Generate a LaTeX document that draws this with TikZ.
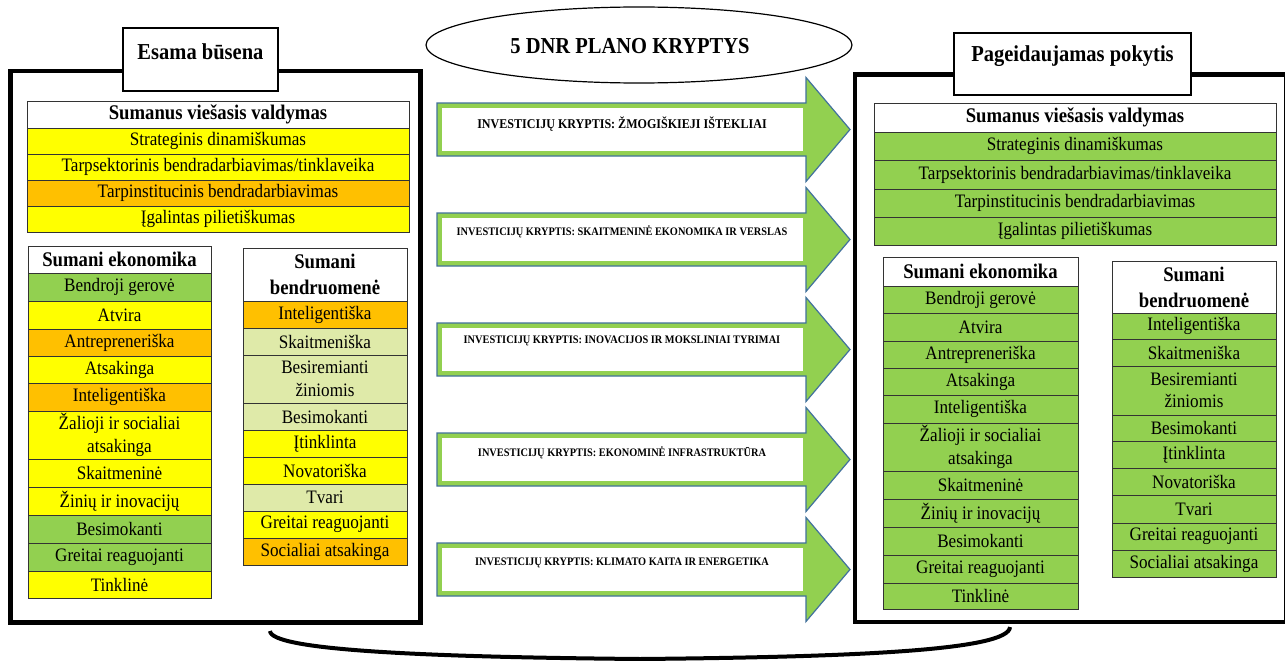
\documentclass[tikz,border=0pt]{standalone}
\usepackage{fontspec}
\setmainfont{Liberation Serif}[FakeStretch=0.9]
\usetikzlibrary{shapes.geometric}
\definecolor{cy}{HTML}{FFFF00}
\definecolor{co}{HTML}{FFC000}
\definecolor{cg}{HTML}{92D050}
\definecolor{cl}{HTML}{DFEAA9}
\definecolor{aline}{HTML}{41719C}
\newcommand\mycell[8]{\node[#1, fill=#7, minimum width={(#5-#3)*1pt}, minimum height={(#6-#4)*1pt}] (#2) at ({(#3+#5)/2},{(#4+#6)/2}) {#8};}
\tikzset{
  cellbox/.style={draw=black!80, line width=0.8pt, inner sep=0pt, align=center, font=\fontsize{19}{22.5}\selectfont},
  headbox/.style={cellbox, font=\bfseries\fontsize{20.8}{26}\selectfont},
  frame/.style={draw=black, line width=4.5pt},
  titlebox/.style={draw=black, line width=1.2pt, fill=white, inner sep=0pt},
  titletext/.style={font=\bfseries\fontsize{22.8}{26}\selectfont, inner sep=0pt},
  arrowbody/.style={draw=aline, line width=1.2pt, fill=cg},
  arrowwhite/.style={fill=white, draw=none, inner sep=0pt, minimum width=361pt, minimum height=43pt},
  arrowtext/.style={font=\bfseries\fontsize{11.5}{13}\selectfont, inner sep=0pt},
  arcline/.style={draw=black, line width=4pt},
}
\begin{document}
\begin{tikzpicture}[x=1pt,y=-1pt]
\useasboundingbox (0,0) rectangle (1285,661);
\clip (0,0) rectangle (1285,661);
\fill[white] (0,0) rectangle (1285,661);

% frames
\node[frame, minimum width=410pt, minimum height=551.5pt, inner sep=0pt] (leftframe) at (215.5,346.75) {};
\node[frame, minimum width=431pt, minimum height=547.5pt, inner sep=0pt] (rightframe) at (1070.5,348.25) {};

% title boxes
\node[titlebox, minimum width=155pt, minimum height=63pt] (esamabox) at (200.5,59.5) {};
\node[titletext] (esama) at (200.5,52) {Esama būsena};
\node[titlebox, minimum width=237pt, minimum height=62pt] (pagbox) at (1072.5,64) {};
\node[titletext] (pag) at (1072.5,56) {Pageidaujamas pokytis};

% ellipse
\node[draw=black, line width=1.2pt, fill=white, ellipse, minimum width=426pt, minimum height=76pt, inner sep=0pt] (dnr) at (639,45) {};
\node[titletext] (dnrtext) at (630,46) {5 DNR PLANO KRYPTYS};

% arrows
\foreach \c/\n in {129.5/a1,239.5/a2,349.5/a3,459.5/a4,569.5/a5}{
  \draw[arrowbody] (437,\c-26.5) -- (806,\c-26.5) -- (806,\c-52) -- (850,\c) -- (806,\c+52) -- (806,\c+26.5) -- (437,\c+26.5) -- cycle;
  \node[arrowwhite] (\n w) at (622.5,\c) {};
}
\node[arrowtext, font=\bfseries\fontsize{13.4}{15}\selectfont] (a1t) at (622,124) {INVESTICIJŲ KRYPTIS: ŽMOGIŠKIEJI IŠTEKLIAI};
\node[arrowtext] (a2t) at (622,232) {INVESTICIJŲ KRYPTIS: SKAITMENINĖ EKONOMIKA IR VERSLAS};
\node[arrowtext] (a3t) at (622,341) {INVESTICIJŲ KRYPTIS: INOVACIJOS IR MOKSLINIAI TYRIMAI};
\node[arrowtext] (a4t) at (622,453) {INVESTICIJŲ KRYPTIS: EKONOMINĖ INFRASTRUKTŪRA};
\node[arrowtext] (a5t) at (622,563) {INVESTICIJŲ KRYPTIS: KLIMATO KAITA IR ENERGETIKA};

% left: Sumanus viesasis valdymas
\mycell{headbox}{LS0}{27}{101}{409}{128}{white}{Sumanus viešasis valdymas}
\mycell{cellbox}{LS1}{27}{128}{409}{154}{cy}{Strateginis dinamiškumas}
\mycell{cellbox}{LS2}{27}{154}{409}{180}{cy}{Tarpsektorinis bendradarbiavimas/tinklaveika}
\mycell{cellbox}{LS3}{27}{180}{409}{206}{co}{Tarpinstitucinis bendradarbiavimas}
\mycell{cellbox}{LS4}{27}{206}{409}{232}{cy}{Įgalintas pilietiškumas}

% left: Sumani ekonomika
\mycell{headbox}{LE0}{28}{246}{211}{273}{white}{Sumani ekonomika}
\mycell{cellbox}{LE1}{28}{273}{211}{301}{cg}{Bendroji gerovė}
\mycell{cellbox}{LE2}{28}{301}{211}{329}{cy}{Atvira}
\mycell{cellbox}{LE3}{28}{329}{211}{356}{co}{Antrepreneriška}
\mycell{cellbox}{LE4}{28}{356}{211}{383}{cy}{Atsakinga}
\mycell{cellbox}{LE5}{28}{383}{211}{411}{co}{Inteligentiška}
\mycell{cellbox}{LE6}{28}{411}{211}{459}{cy}{Žalioji ir socialiai\\atsakinga}
\mycell{cellbox}{LE7}{28}{459}{211}{487}{cy}{Skaitmeninė}
\mycell{cellbox}{LE8}{28}{487}{211}{515}{cy}{Žinių ir inovacijų}
\mycell{cellbox}{LE9}{28}{515}{211}{543}{cg}{Besimokanti}
\mycell{cellbox}{LE10}{28}{543}{211}{571}{cg}{Greitai reaguojanti}
\mycell{cellbox}{LE11}{28}{571}{211}{598}{cy}{Tinklinė}

% left: Sumani bendruomene
\mycell{headbox}{LB0}{243}{248}{407}{301}{white}{Sumani\\bendruomenė}
\mycell{cellbox}{LB1}{243}{301}{407}{328}{co}{Inteligentiška}
\mycell{cellbox}{LB2}{243}{328}{407}{355}{cl}{Skaitmeniška}
\mycell{cellbox}{LB3}{243}{355}{407}{403}{cl}{Besiremianti\\žiniomis}
\mycell{cellbox}{LB4}{243}{403}{407}{430}{cl}{Besimokanti}
\mycell{cellbox}{LB5}{243}{430}{407}{457}{cy}{Įtinklinta}
\mycell{cellbox}{LB6}{243}{457}{407}{484}{cy}{Novatoriška}
\mycell{cellbox}{LB7}{243}{484}{407}{511}{cl}{Tvari}
\mycell{cellbox}{LB8}{243}{511}{407}{538}{cy}{Greitai reaguojanti}
\mycell{cellbox}{LB9}{243}{538}{407}{565}{co}{Socialiai atsakinga}

% right: Sumanus viesasis valdymas
\mycell{headbox}{RS0}{874}{103}{1276}{132}{white}{Sumanus viešasis valdymas}
\mycell{cellbox}{RS1}{874}{132}{1276}{160}{cg}{Strateginis dinamiškumas}
\mycell{cellbox}{RS2}{874}{160}{1276}{189}{cg}{Tarpsektorinis bendradarbiavimas/tinklaveika}
\mycell{cellbox}{RS3}{874}{189}{1276}{217}{cg}{Tarpinstitucinis bendradarbiavimas}
\mycell{cellbox}{RS4}{874}{217}{1276}{245}{cg}{Įgalintas pilietiškumas}

% right: Sumani ekonomika
\mycell{headbox}{RE0}{883}{257}{1078}{286}{white}{Sumani ekonomika}
\mycell{cellbox}{RE1}{883}{286}{1078}{313}{cg}{Bendroji gerovė}
\mycell{cellbox}{RE2}{883}{313}{1078}{341}{cg}{Atvira}
\mycell{cellbox}{RE3}{883}{341}{1078}{368}{cg}{Antrepreneriška}
\mycell{cellbox}{RE4}{883}{368}{1078}{395}{cg}{Atsakinga}
\mycell{cellbox}{RE5}{883}{395}{1078}{423}{cg}{Inteligentiška}
\mycell{cellbox}{RE6}{883}{423}{1078}{471}{cg}{Žalioji ir socialiai\\atsakinga}
\mycell{cellbox}{RE7}{883}{471}{1078}{499}{cg}{Skaitmeninė}
\mycell{cellbox}{RE8}{883}{499}{1078}{527}{cg}{Žinių ir inovacijų}
\mycell{cellbox}{RE9}{883}{527}{1078}{555}{cg}{Besimokanti}
\mycell{cellbox}{RE10}{883}{555}{1078}{583}{cg}{Greitai reaguojanti}
\mycell{cellbox}{RE11}{883}{583}{1078}{609}{cg}{Tinklinė}

% right: Sumani bendruomene
\mycell{headbox}{RB0}{1112}{261}{1276}{313}{white}{Sumani\\bendruomenė}
\mycell{cellbox}{RB1}{1112}{313}{1276}{339}{cg}{Inteligentiška}
\mycell{cellbox}{RB2}{1112}{339}{1276}{366}{cg}{Skaitmeniška}
\mycell{cellbox}{RB3}{1112}{366}{1276}{415}{cg}{Besiremianti\\žiniomis}
\mycell{cellbox}{RB4}{1112}{415}{1276}{441}{cg}{Besimokanti}
\mycell{cellbox}{RB5}{1112}{441}{1276}{468}{cg}{Įtinklinta}
\mycell{cellbox}{RB6}{1112}{468}{1276}{495}{cg}{Novatoriška}
\mycell{cellbox}{RB7}{1112}{495}{1276}{523}{cg}{Tvari}
\mycell{cellbox}{RB8}{1112}{523}{1276}{550}{cg}{Greitai reaguojanti}
\mycell{cellbox}{RB9}{1112}{550}{1276}{577}{cg}{Socialiai atsakinga}

% bottom arc
\coordinate (arcL) at (270,631);
\coordinate (arcR) at (1010,627);
\draw[arcline] (arcL) .. controls (271,650) and (420,657) .. (640,659) .. controls (860,657) and (1009,650) .. (arcR);
\end{tikzpicture}
\end{document}
